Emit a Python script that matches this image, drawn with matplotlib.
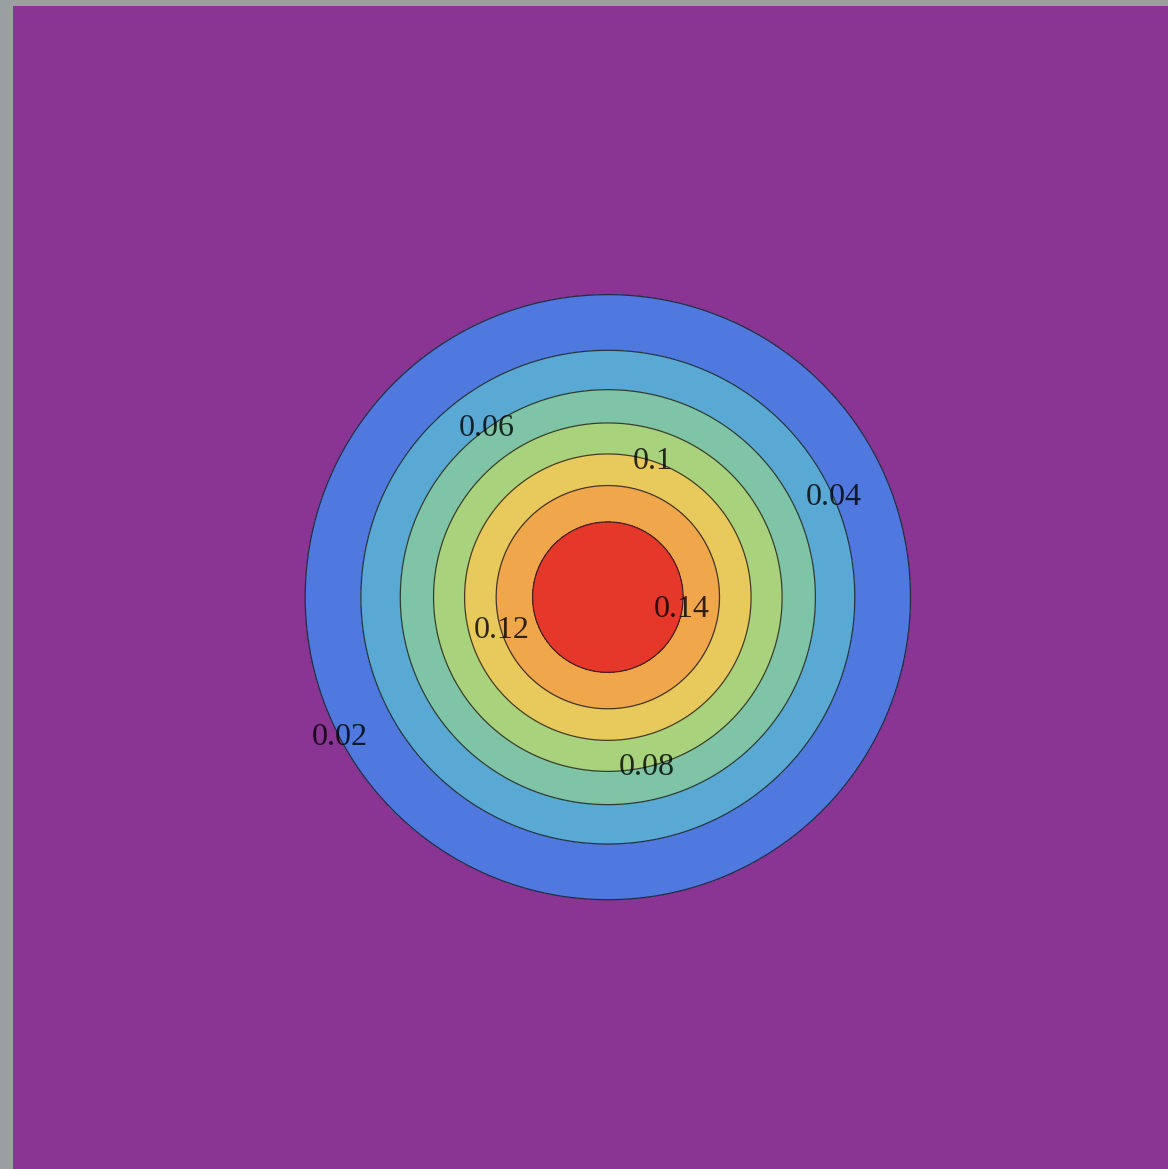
import matplotlib
matplotlib.use("Agg")
import matplotlib.pyplot as plt
import numpy as np
from matplotlib.colors import ListedColormap

# standard bivariate normal density
mu = (0.0, 0.0)
sigma = 1.0
grid_min, grid_max, grid_n = -4.0, 4.0, 401

levels = [0.0, 0.02, 0.04, 0.06, 0.08, 0.10, 0.12, 0.14, 0.17]
line_levels = [0.02, 0.04, 0.06, 0.08, 0.10, 0.12, 0.14]
fill_colors = ["#8a3494", "#4f79df", "#5aa8d4", "#7fc4a6", "#a9d27c",
               "#e7c95c", "#f0a64a", "#e5382b"]
label_spots = [(-1.84, -0.96), (1.50, 0.66), (-0.82, 1.14), (0.26, -1.15),
               (0.30, 0.90), (-0.74, -0.23), (0.47, -0.08)]

x = np.linspace(grid_min, grid_max, grid_n)
X, Y = np.meshgrid(x, x)
Z = np.exp(-((X - mu[0]) ** 2 + (Y - mu[1]) ** 2) / (2 * sigma ** 2)) / (2 * np.pi * sigma ** 2)

fig = plt.figure(figsize=(11.68, 11.69), dpi=100)
fig.patch.set_facecolor("#9a9fa2")
ax = fig.add_axes([12 / 1168, 0, 1 - 12 / 1168, 1 - 6 / 1169])

ax.contourf(X, Y, Z, levels=levels, cmap=ListedColormap(fill_colors))
cs = ax.contour(X, Y, Z, levels=line_levels, colors="#1a1a1a", linewidths=0.9, alpha=0.8)
ax.clabel(cs, inline=False, manual=label_spots, fmt=lambda v: f"{v:g}",
          fontsize=23, colors="black")
for t in cs.labelTexts:
    t.set_family("Liberation Serif")
    t.set_rotation(0)

ax.set_xlim(-4.01, 3.77)
ax.set_ylim(-3.85, 3.98)
ax.set_aspect("auto")
ax.axis("off")

fig.savefig("out.png", dpi=100, facecolor=fig.get_facecolor())
plt.close(fig)
